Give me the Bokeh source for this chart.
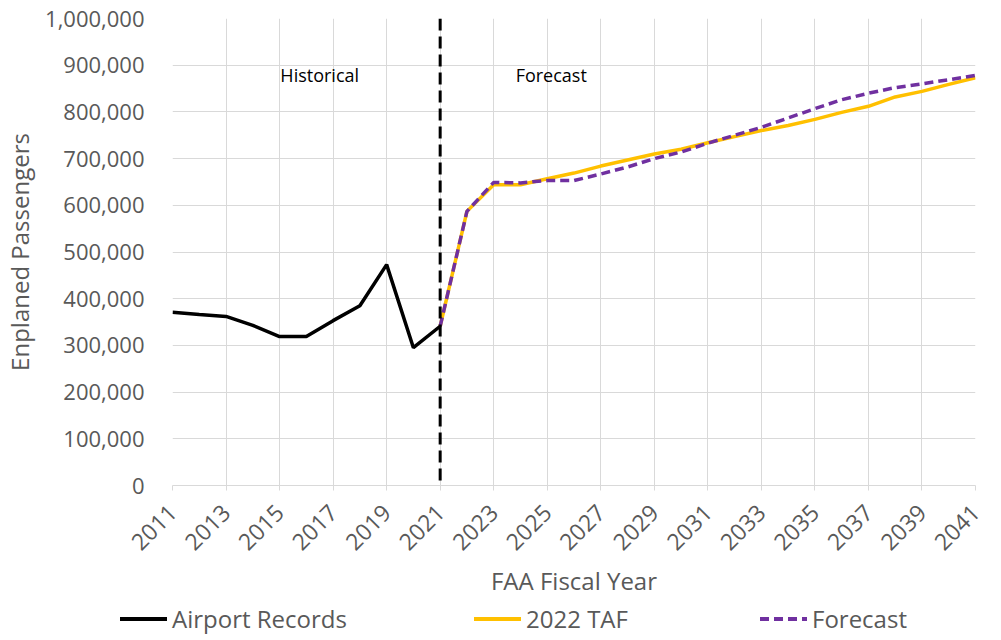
from bokeh.plotting import figure
from bokeh.layouts import column
from bokeh.models import FixedTicker, NumeralTickFormatter, Span, Label, Range1d, Div
from bokeh.embed import file_html
from bokeh.resources import INLINE

# ---- data ----
hist_years = [2011, 2012, 2013, 2014, 2015, 2016, 2017, 2018, 2019, 2020, 2021]
hist_pax = [371000, 366000, 362000, 343000, 319000, 319000, 353000, 385000, 473000, 295000, 341000]

fc_years = [2021, 2022, 2023, 2024, 2025, 2026, 2027, 2028, 2029, 2030, 2031,
            2032, 2033, 2034, 2035, 2036, 2037, 2038, 2039, 2040, 2041]
taf_pax = [341000, 587000, 644000, 644000, 657000, 669000, 684000, 697000, 710000, 720000, 734000,
           747000, 760000, 771000, 784000, 799000, 812000, 832000, 844000, 859000, 873000]
forecast_pax = [341000, 587000, 649000, 648000, 653000, 653000, 667000, 682000, 700000, 714000, 733000,
                750000, 767000, 787000, 807000, 826000, 840000, 852000, 860000, 869000, 878000]

x_ticks = [2011, 2013, 2015, 2017, 2019, 2021, 2023, 2025, 2027, 2029, 2031, 2033, 2035, 2037, 2039, 2041]
y_ticks = [0, 100000, 200000, 300000, 400000, 500000, 600000, 700000, 800000, 900000, 1000000]
split_year = 2021
series_names = ["Airport Records", "2022 TAF", "Forecast"]
series_colors = ["black", "#FFC000", "#7030A0"]
period_labels = ["Historical", "Forecast"]

FONT = "Open Sans"
GRAY = "#595959"
GRID = "#d9d9d9"

p = figure(width=985, height=605, output_backend="svg", toolbar_location=None,
           x_range=Range1d(2011, 2041), y_range=Range1d(0, 1000000),
           min_border_left=164, min_border_right=10, min_border_top=18, min_border_bottom=120)
p.outline_line_color = None
p.background_fill_color = "white"
p.border_fill_color = "white"

# grid
p.xgrid.ticker = FixedTicker(ticks=x_ticks)
p.ygrid.ticker = FixedTicker(ticks=y_ticks)
p.grid.grid_line_color = GRID
p.grid.grid_line_width = 1

# x axis
xa = p.xaxis[0]
xa.ticker = FixedTicker(ticks=x_ticks)
xa.major_label_orientation = 0.785398
xa.axis_line_color = GRID
xa.major_tick_line_color = GRID
xa.major_tick_in = 0
xa.major_tick_out = 5
xa.minor_tick_line_color = None
xa.major_label_standoff = 18
xa.major_label_text_font = FONT
xa.major_label_text_font_size = "23px"
xa.major_label_text_color = GRAY
xa.axis_label = "FAA Fiscal Year"
xa.axis_label_text_font = FONT
xa.axis_label_text_font_size = "24px"
xa.axis_label_text_font_style = "normal"
xa.axis_label_text_color = GRAY
xa.axis_label_standoff = 3

# y axis
ya = p.yaxis[0]
ya.ticker = FixedTicker(ticks=y_ticks)
ya.formatter = NumeralTickFormatter(format="0,0")
ya.axis_line_color = None
ya.major_tick_line_color = None
ya.minor_tick_line_color = None
ya.major_label_standoff = 22
ya.major_label_text_font = FONT
ya.major_label_text_font_size = "22px"
ya.major_label_text_color = GRAY
ya.axis_label = "Enplaned Passengers"
ya.axis_label_text_font = FONT
ya.axis_label_text_font_size = "24px"
ya.axis_label_text_font_style = "normal"
ya.axis_label_text_color = GRAY
ya.axis_label_standoff = 6

# series
p.line(hist_years, hist_pax, line_color=series_colors[0], line_width=3.5)
p.line(fc_years, taf_pax, line_color=series_colors[1], line_width=3.5)
p.line(fc_years, forecast_pax, line_color=series_colors[2], line_width=3.5, line_dash="9 5")

# split line
p.add_layout(Span(location=split_year, dimension="height", line_color="black",
                  line_width=3, line_dash="12 6"))

# period labels
p.add_layout(Label(x=2016.5, y=878000, text=period_labels[0], text_align="center",
                   text_baseline="middle", text_font=FONT, text_font_size="18px", text_color="black"))
p.add_layout(Label(x=2025.15, y=878000, text=period_labels[1], text_align="center",
                   text_baseline="middle", text_font=FONT, text_font_size="18px", text_color="black"))

# legend strip (HTML, real text)
glyph_css = [
    f"background:{series_colors[0]};",
    f"background:{series_colors[1]};",
    f"background:repeating-linear-gradient(to right,{series_colors[2]} 0 9px,transparent 9px 14px);",
]
lefts = [120, 474, 760]
parts = []
for name, css, left in zip(series_names, glyph_css, lefts):
    parts.append(f'<div style="position:absolute;left:{left}px;top:12px;width:47px;height:3.5px;{css}"></div>')
    parts.append(f'<div style="position:absolute;left:{left + 52}px;top:-3px;line-height:33px;'
                 f'white-space:nowrap;">{name}</div>')
html = (f'<div style="position:relative;width:985px;height:27px;font-family:\'Open Sans\';'
        f'font-size:24px;color:{GRAY};">' + "".join(parts) + "</div>")
legend_div = Div(text=html, width=985, height=27, margin=0)

layout = column(p, legend_div, spacing=0)
open("out.html", "w").write(file_html(layout, INLINE))
